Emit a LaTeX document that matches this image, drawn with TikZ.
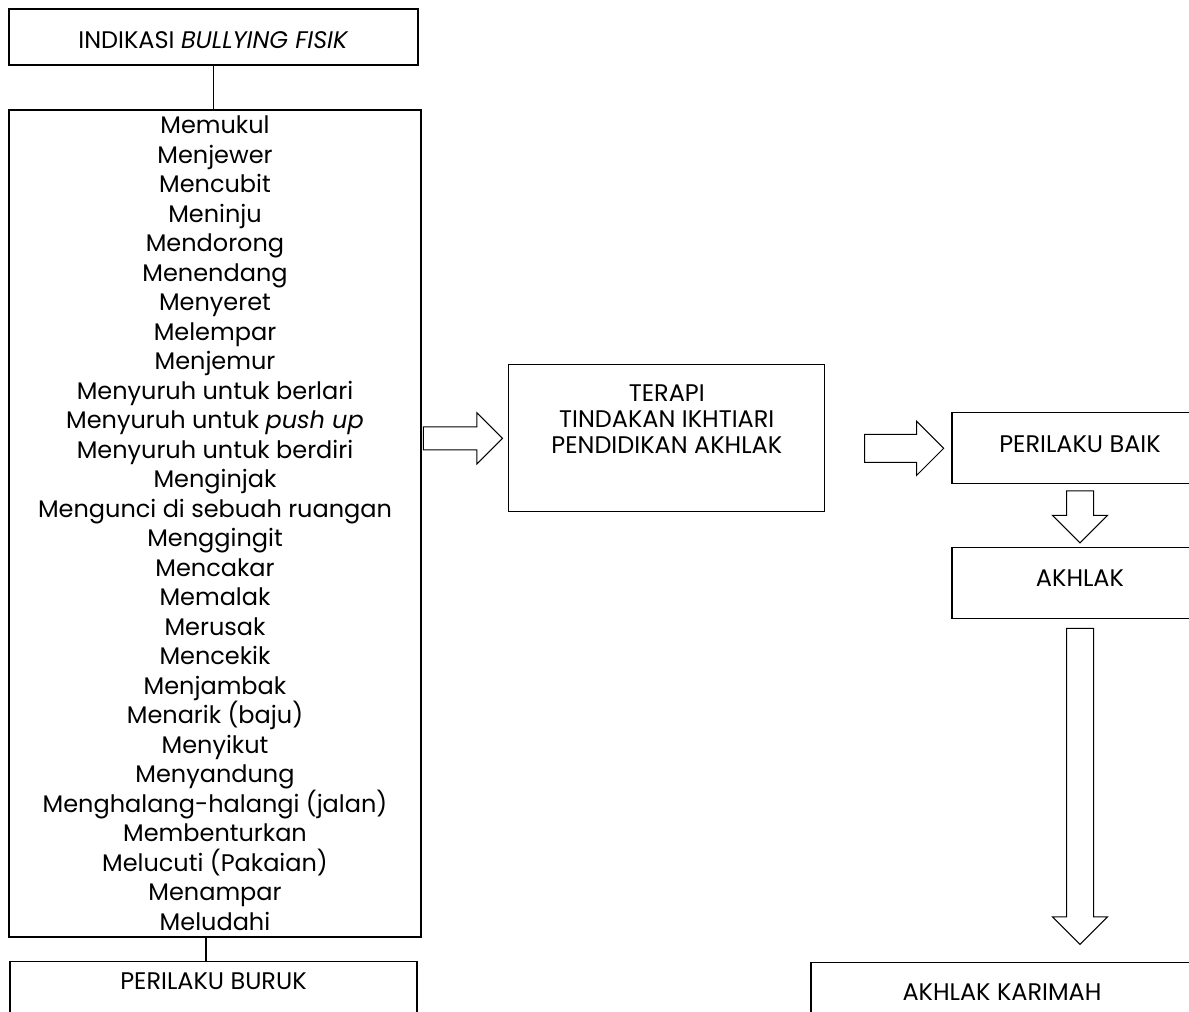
\documentclass[tikz,border=0pt]{standalone}
\usepackage{fontspec}
\setmainfont{Poppins}
\usetikzlibrary{positioning,shapes}

\begin{document}
\begin{tikzpicture}[box/.style={draw, rectangle, line width=0.6pt, align=center, inner sep=0pt, font=\fontsize{12}{14.75}\selectfont}]
        \tikzstyle{blok} = [draw, single arrow, line width=0.5pt, inner sep=0pt, text depth=0pt, single arrow tip angle=90]
        \useasboundingbox (0,0) rectangle (594.5pt,-506pt);

        \node[box, text height=12pt, minimum width=204.5pt, minimum height=28pt] (indikasi) at (106.75pt,-18.5pt) {INDIKASI \textit{BULLYING FISIK}};
        \node[box, line width=1.2pt, minimum width=206pt, minimum height=413.5pt, below = 21.5pt of indikasi, xshift=0.75pt] (fisik) {Memukul\\ Menjewer\\ Mencubit\\ Meninju\\ Mendorong\\ Menendang\\ Menyeret\\ Melempar\\ Menjemur\\ Menyuruh untuk berlari\\ Menyuruh untuk \textit{push up}\\ Menyuruh untuk berdiri\\ Menginjak\\ Mengunci di sebuah ruangan\\ Menggingit\\ Mencakar\\ Memalak\\ Merusak\\ Mencekik\\ Menjambak\\ Menarik (baju)\\ Menyikut\\ Menyandung\\ Menghalang-halangi (jalan)\\ Membenturkan\\ Melucuti (Pakaian)\\ Menampar\\ Meludahi};
        \node[box, text depth=10pt, minimum width=203.5pt, minimum height=30pt, below = 11.5pt of fisik, xshift=-0.75pt] (buruk) {PERILAKU BURUK};
        \node[box, font=\fontsize{12}{13}\selectfont, text depth=19pt, minimum width=158pt, minimum height=73.5pt, right = 43pt of fisik.east, yshift=42.5pt] (terapi) {TERAPI\\ TINDAKAN IKHTIARI\\ PENDIDIKAN AKHLAK};
        \node[box, text depth=4pt, minimum width=128pt, minimum height=35.5pt, right = 63pt of terapi.east, yshift=-5pt] (baik) {PERILAKU BAIK};

        \node[blok, text height=11pt, single arrow head extend=7pt, minimum height=39.5pt, left = 2.5pt of terapi.west, anchor=tip] (a1) {};
        \node[blok, text height=13.5pt, single arrow head extend=6.5pt, minimum height=39.5pt, left = 3.5pt of baik.west, anchor=tip] (a2) {};
        \node[blok, rotate=-90, text height=13pt, single arrow head extend=7pt, minimum height=26pt, below = 3pt of baik.south, anchor=tail] (a3) {};
        \node[box, text depth=5pt, minimum width=128pt, minimum height=35.5pt, below = 1.5pt of a3.tip] (akhlak) {AKHLAK};
        \node[blok, rotate=-90, text height=13pt, single arrow head extend=7pt, minimum height=158pt, below = 4.5pt of akhlak.south, anchor=tail] (a4) {};
        \node[box, minimum width=191pt, minimum height=30pt, below = 8.5pt of a4.tip, xshift=-39pt] (karimah) {AKHLAK KARIMAH};

        \draw [line width=0.6pt] (indikasi.south) -- (indikasi.south |- fisik.north);
        \draw [line width=0.6pt] ([xshift=-4.5pt]fisik.south) -- ([xshift=-4.5pt]fisik.south |- buruk.north);
        \end{tikzpicture}
\end{document}
